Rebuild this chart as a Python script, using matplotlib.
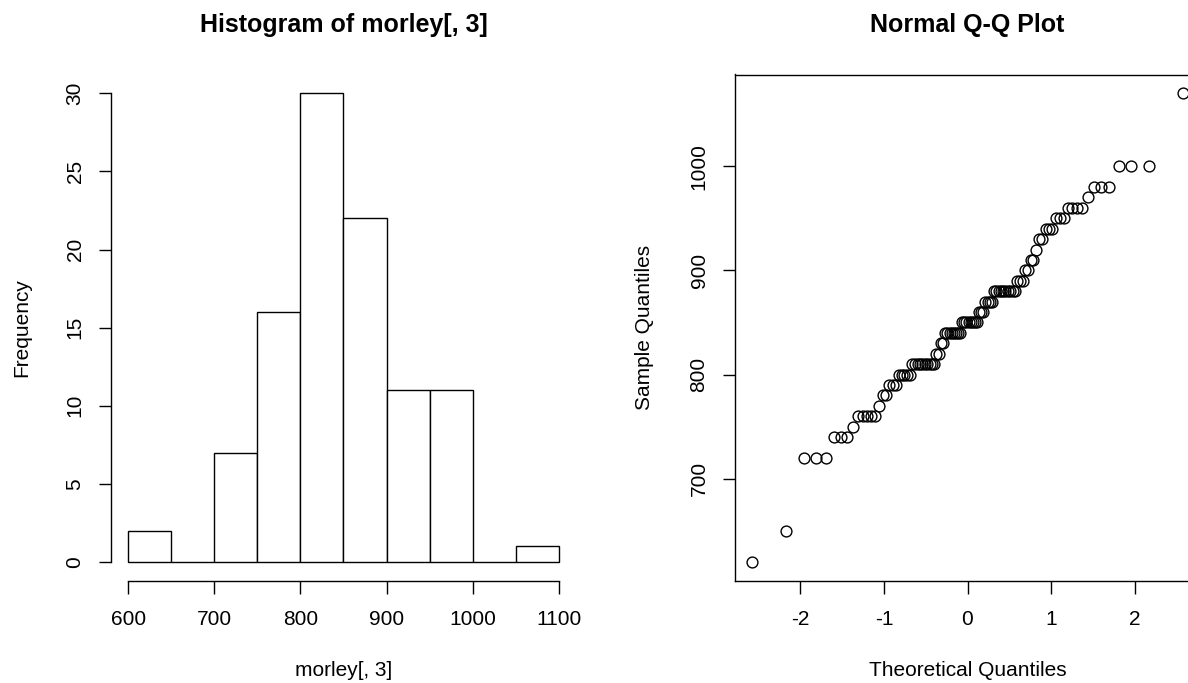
import matplotlib
matplotlib.use("Agg")
import matplotlib.pyplot as plt
import numpy as np
from statistics import NormalDist

# morley[, 3] -- speed of light measurements (5 experiments x 20 runs)
speed = [850, 740, 900, 1070, 930, 850, 950, 980, 980, 880,
         1000, 980, 930, 650, 760, 810, 1000, 1000, 960, 960,
         960, 940, 960, 940, 880, 800, 850, 880, 900, 840,
         830, 790, 810, 880, 880, 830, 800, 790, 760, 800,
         880, 880, 880, 860, 720, 720, 620, 860, 970, 950,
         880, 910, 850, 870, 840, 840, 850, 840, 840, 840,
         890, 810, 810, 820, 800, 770, 760, 740, 750, 760,
         910, 920, 890, 860, 880, 720, 840, 850, 850, 780,
         890, 840, 780, 810, 760, 810, 790, 810, 820, 850,
         870, 870, 810, 740, 810, 940, 950, 800, 810, 870]

# histogram as drawn (right-closed bins of width 50)
bin_edges = [600, 650, 700, 750, 800, 850, 900, 950, 1000, 1050, 1100]
bin_counts = [2, 0, 7, 16, 30, 22, 11, 11, 0, 1]

hist_xticks = [600, 700, 800, 900, 1000, 1100]
hist_yticks = [0, 5, 10, 15, 20, 25, 30]
qq_xticks = [-2, -1, 0, 1, 2]
qq_yticks = [700, 800, 900, 1000]

W, H = 1188, 683
FONT = "Liberation Sans"
plt.rcParams["font.family"] = [FONT, "DejaVu Sans"]
plt.rcParams["axes.unicode_minus"] = False


def px_box(x0, x1, ytop, ybot):
    return [x0 / W, 1 - ybot / H, (x1 - x0) / W, (ybot - ytop) / H]


def style_ticks(ax):
    ax.tick_params(axis="both", direction="out", length=9, width=1,
                   labelsize=15, color="black")
    ax.tick_params(axis="x", pad=12)
    ax.tick_params(axis="y", pad=10)
    for lab in ax.get_yticklabels():
        lab.set_rotation(90)
        lab.set_va("center")


fig = plt.figure(figsize=(W / 100, H / 100), dpi=100)
fig.patch.set_facecolor("white")

# ---- left: histogram
ax1 = fig.add_axes(px_box(111, 576, 74.5, 580.8))
lefts = np.array(bin_edges[:-1])
widths = np.diff(bin_edges)
ax1.bar(lefts, bin_counts, width=widths, align="edge", facecolor="white",
        edgecolor="black", linewidth=1.0)
ax1.set_xlim(580, 1120)
ax1.set_ylim(-1.2, 31.2)
ax1.set_xticks(hist_xticks)
ax1.set_yticks(hist_yticks)
ax1.spines["top"].set_visible(False)
ax1.spines["right"].set_visible(False)
ax1.spines["left"].set_bounds(0, 30)
ax1.spines["bottom"].set_bounds(600, 1100)
for s in ("left", "bottom"):
    ax1.spines[s].set_linewidth(1)
style_ticks(ax1)

fig.text(343.5 / W, 1 - 31.7 / H, "Histogram of morley[, 3]", ha="center",
         va="baseline", fontsize=18, fontweight="bold")
fig.text(343.5 / W, 1 - 670 / H, "morley[, 3]", ha="center", va="center",
         fontsize=15)
fig.text(22 / W, 1 - 327.6 / H, "Frequency", ha="center", va="center",
         rotation=90, fontsize=15)

# ---- right: normal Q-Q plot
n = len(speed)
sample_q = np.sort(np.array(speed))
probs = (np.arange(1, n + 1) - 0.5) / n
theo_q = np.array([NormalDist().inv_cdf(p) for p in probs])

ax2 = fig.add_axes(px_box(735, 1200, 74.5, 580.8))
ax2.plot(theo_q, sample_q, linestyle="none", marker="o", markersize=7.8,
         markerfacecolor="none", markeredgecolor="black", markeredgewidth=1.0)
ext = 0.04 * (theo_q.max() - theo_q.min())
ax2.set_xlim(theo_q.min() - ext, theo_q.max() + ext)
yext = 0.04 * (sample_q.max() - sample_q.min())
ax2.set_ylim(sample_q.min() - yext, sample_q.max() + yext)
ax2.set_xticks(qq_xticks)
ax2.set_yticks(qq_yticks)
for s in ax2.spines.values():
    s.set_linewidth(1)
style_ticks(ax2)

fig.text(967.5 / W, 1 - 31.7 / H, "Normal Q-Q Plot", ha="center",
         va="baseline", fontsize=18, fontweight="bold")
fig.text(967.5 / W, 1 - 670 / H, "Theoretical Quantiles", ha="center",
         va="center", fontsize=15)
fig.text(645 / W, 1 - 327.6 / H, "Sample Quantiles", ha="center",
         va="center", rotation=90, fontsize=15)

fig.savefig("out.png", dpi=100)
